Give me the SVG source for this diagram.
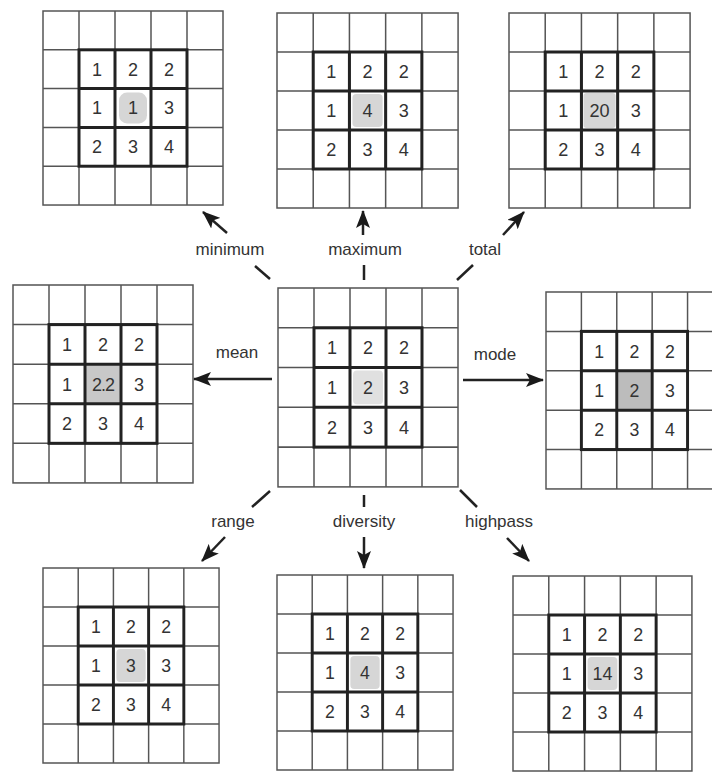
<svg xmlns="http://www.w3.org/2000/svg" xmlns:xlink="http://www.w3.org/1999/xlink" width="712" height="772" viewBox="0 0 712 772">
<style>
.thin{fill:none;stroke:#555;stroke-width:1.5}
.thick{fill:none;stroke:#222;stroke-width:3}
.num{font-family:"Liberation Sans",Arial,sans-serif;font-size:18px;fill:#333;text-anchor:middle}
.lbl{font-family:"Liberation Sans",Arial,sans-serif;font-size:17px;fill:#333;text-anchor:middle}
.conn{stroke:#222;stroke-width:2.5;fill:none}
.shade{fill:#d6d6d6}
</style>
<defs>
<marker id="ah" markerUnits="userSpaceOnUse" markerWidth="18" markerHeight="14" refX="17" refY="7" orient="auto">
<path d="M0,0 L18,7 L0,14 L4,7 z" fill="#1a1a1a"/>
</marker>
<g id="grid">
<rect class="thin" x="0" y="0" width="180" height="195"/>
<path class="thin" d="M36,0V195M72,0V195M108,0V195M144,0V195M0,39H180M0,78H180M0,117H180M0,156H180"/>
<rect class="thick" x="36" y="39" width="108" height="117"/>
<path class="thick" d="M72,39V156M108,39V156M36,78H144M36,117H144"/>
<text class="num" x="54" y="65">1</text>
<text class="num" x="90" y="65">2</text>
<text class="num" x="126" y="65">2</text>
<text class="num" x="54" y="104">1</text>
<text class="num" x="126" y="104">3</text>
<text class="num" x="54" y="143">2</text>
<text class="num" x="90" y="143">3</text>
<text class="num" x="126" y="143">4</text>
</g>
</defs>
<rect x="0" y="0" width="712" height="772" fill="#fff"/>

<g id="minimum-grid" transform="translate(43,11) scale(1,0.995)">
<rect class="shade" x="76" y="82" width="28" height="31" rx="8"/>
<use xlink:href="#grid" href="#grid"/>
<text class="num" x="90" y="104">1</text>
</g>

<g id="maximum-grid" transform="translate(277,13) scale(1.006,1)">
<rect class="shade" x="75" y="81" width="30" height="33" rx="4"/>
<use xlink:href="#grid" href="#grid"/>
<text class="num" x="90" y="104">4</text>
</g>

<g id="total-grid" transform="translate(509,13) scale(1.006,1)">
<rect class="shade" x="74" y="80" width="32" height="35" rx="3"/>
<use xlink:href="#grid" href="#grid"/>
<text class="num" x="90" y="104">20</text>
</g>

<g id="mean-grid" transform="translate(13,285) scale(1,1.015)">
<rect x="73" y="79" width="34" height="37" fill="#c8c8c8"/>
<use xlink:href="#grid" href="#grid"/>
<text class="num" x="90" y="104" style="letter-spacing:-1px">2.2</text>
</g>

<g id="center-grid" transform="translate(278,288) scale(1,1.02)">
<rect class="shade" x="75" y="81" width="30" height="33" rx="4" style="fill:#e0e0e0"/>
<use xlink:href="#grid" href="#grid"/>
<text class="num" x="90" y="104">2</text>
</g>

<g id="mode-grid" transform="translate(546,292) scale(0.983,1.01)">
<rect x="73" y="79" width="34" height="37" fill="#bcbcbc"/>
<use xlink:href="#grid" href="#grid"/>
<text class="num" x="90" y="104">2</text>
</g>

<g id="range-grid" transform="translate(43,568) scale(0.978,1)">
<rect class="shade" x="75" y="81" width="30" height="33" rx="4"/>
<use xlink:href="#grid" href="#grid"/>
<text class="num" x="90" y="104">3</text>
</g>

<g id="diversity-grid" transform="translate(277,575) scale(0.978,1)">
<rect class="shade" x="75" y="81" width="30" height="33" rx="4"/>
<use xlink:href="#grid" href="#grid"/>
<text class="num" x="90" y="104">4</text>
</g>

<g id="highpass-grid" transform="translate(513,576) scale(0.994,1)">
<rect class="shade" x="75" y="81" width="30" height="33" rx="4"/>
<use xlink:href="#grid" href="#grid"/>
<text class="num" x="90" y="104">14</text>
</g>

<g id="connectors">
<line class="conn" x1="270" y1="279" x2="255" y2="266"/>
<line class="conn" x1="227" y1="233" x2="203" y2="212" marker-end="url(#ah)"/>
<line class="conn" x1="364" y1="280" x2="364" y2="265"/>
<line class="conn" x1="363" y1="235" x2="363" y2="211" marker-end="url(#ah)"/>
<line class="conn" x1="457" y1="280" x2="473" y2="265"/>
<line class="conn" x1="503" y1="235" x2="524" y2="212" marker-end="url(#ah)"/>
<line class="conn" x1="272" y1="379" x2="194" y2="379" marker-end="url(#ah)"/>
<line class="conn" x1="463" y1="380" x2="543" y2="380" marker-end="url(#ah)"/>
<line class="conn" x1="270" y1="491" x2="252" y2="507"/>
<line class="conn" x1="225" y1="537" x2="202" y2="561" marker-end="url(#ah)"/>
<line class="conn" x1="364" y1="495" x2="364" y2="507"/>
<line class="conn" x1="364" y1="537" x2="364" y2="568" marker-end="url(#ah)"/>
<line class="conn" x1="460" y1="490" x2="477" y2="507"/>
<line class="conn" x1="507" y1="538" x2="529" y2="561" marker-end="url(#ah)"/>
</g>

<g id="labels">
<text class="lbl" x="230" y="255">minimum</text>
<text class="lbl" x="365" y="255">maximum</text>
<text class="lbl" x="485" y="255">total</text>
<text class="lbl" x="237" y="358">mean</text>
<text class="lbl" x="495" y="360">mode</text>
<text class="lbl" x="233" y="527">range</text>
<text class="lbl" x="364" y="527">diversity</text>
<text class="lbl" x="499" y="527">highpass</text>
</g>
</svg>
